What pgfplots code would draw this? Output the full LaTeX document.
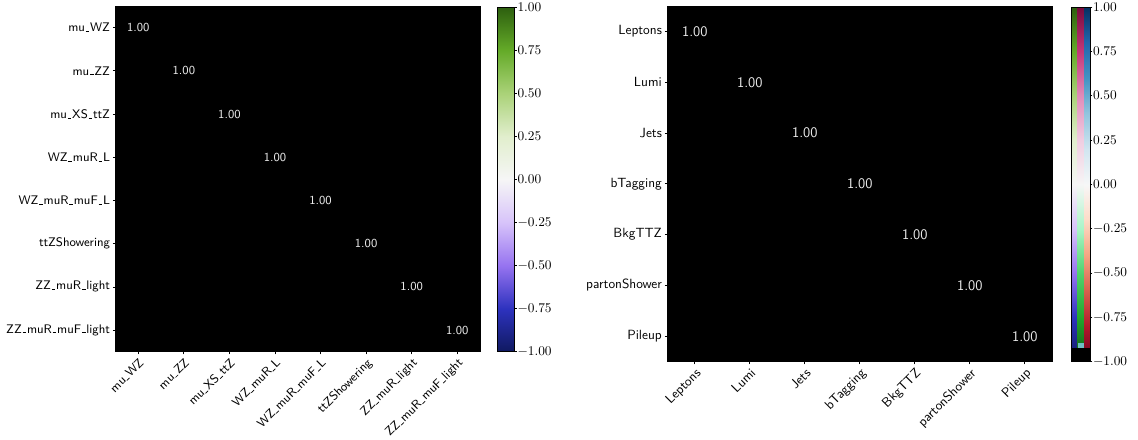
\documentclass[border=0pt]{standalone}
\usepackage{pgfplots}
\pgfplotsset{compat=1.18}
\renewcommand{\_}{\leavevmode\kern.06em\vbox{\hrule width.3em height 0.5pt}\kern.06em}
\definecolor{artifact}{RGB}{110,190,195}
\pgfplotsset{
  colormap={GB}{rgb255=(15,25,95) rgb255=(45,50,190) rgb255=(150,115,240) rgb255=(215,195,250) rgb255=(246,246,246) rgb255=(225,238,205) rgb255=(170,210,120) rgb255=(100,170,40) rgb255=(45,95,15)},
  colormap={PG}{rgb255=(15,90,20) rgb255=(35,165,45) rgb255=(80,210,110) rgb255=(170,245,200) rgb255=(246,246,246) rgb255=(240,205,225) rgb255=(225,140,185) rgb255=(195,55,120) rgb255=(120,10,60)},
  colormap={RB}{rgb255=(103,0,31) rgb255=(178,24,43) rgb255=(214,96,77) rgb255=(244,165,130) rgb255=(253,219,199) rgb255=(247,247,247) rgb255=(209,229,240) rgb255=(146,197,222) rgb255=(67,147,195) rgb255=(33,102,172) rgb255=(5,48,97)},
  colormap={blk}{rgb255=(0,0,0) rgb255=(0,0,0)},
  mstyle/.style={scale only axis, anchor=north west, y dir=reverse,
    colormap name=blk, enlargelimits=false,
    axis background/.style={fill=black},
    tick pos=left, tick align=outside, major tick length=1.9pt,
    tick style={black, line width=0.6pt},
    axis line style={black},
    x tick label style={rotate=45, anchor=north east, inner sep=1.5pt},
    y tick label style={inner sep=2pt}},
  cstyle/.style={scale only axis, anchor=north west,
    xmin=0, ymin=-1, ymax=1, xtick=\empty,
    ytick={-1,-0.75,-0.5,-0.25,0,0.25,0.5,0.75,1},
    yticklabel pos=right, ytick pos=right, tick align=outside,
    major tick length=1.7pt, tick style={black, line width=0.6pt},
    yticklabel style={/pgf/number format/fixed, /pgf/number format/fixed zerofill, /pgf/number format/precision=2, inner sep=0.4pt},
    point meta min=-1, point meta max=1, axis on top,
    axis line style={black, line width=0.5pt}},
  diaglabels/.style={draw=none, mark=none, point meta=explicit,
    nodes near coords={\pgfmathprintnumber[fixed,fixed zerofill,precision=2,assume math mode=true]{\pgfplotspointmeta}},
    nodes near coords align={center}}
}
\pgfplotstableread[row sep=\\]{
x y c\\
0 0 1\\ 1 0 0\\ 2 0 0\\ 3 0 0\\ 4 0 0\\ 5 0 0\\ 6 0 0\\ 7 0 0\\
0 1 0\\ 1 1 1\\ 2 1 0\\ 3 1 0\\ 4 1 0\\ 5 1 0\\ 6 1 0\\ 7 1 0\\
0 2 0\\ 1 2 0\\ 2 2 1\\ 3 2 0\\ 4 2 0\\ 5 2 0\\ 6 2 0\\ 7 2 0\\
0 3 0\\ 1 3 0\\ 2 3 0\\ 3 3 1\\ 4 3 0\\ 5 3 0\\ 6 3 0\\ 7 3 0\\
0 4 0\\ 1 4 0\\ 2 4 0\\ 3 4 0\\ 4 4 1\\ 5 4 0\\ 6 4 0\\ 7 4 0\\
0 5 0\\ 1 5 0\\ 2 5 0\\ 3 5 0\\ 4 5 0\\ 5 5 1\\ 6 5 0\\ 7 5 0\\
0 6 0\\ 1 6 0\\ 2 6 0\\ 3 6 0\\ 4 6 0\\ 5 6 0\\ 6 6 1\\ 7 6 0\\
0 7 0\\ 1 7 0\\ 2 7 0\\ 3 7 0\\ 4 7 0\\ 5 7 0\\ 6 7 0\\ 7 7 1\\
}\leftmat
\pgfplotstableread[row sep=\\]{
x y c\\
0 0 1\\ 1 1 1\\ 2 2 1\\ 3 3 1\\ 4 4 1\\ 5 5 1\\ 6 6 1\\ 7 7 1\\
}\leftdiag
\pgfplotstableread[row sep=\\]{
x y c\\
0 0 1\\ 1 0 0\\ 2 0 0\\ 3 0 0\\ 4 0 0\\ 5 0 0\\ 6 0 0\\
0 1 0\\ 1 1 1\\ 2 1 0\\ 3 1 0\\ 4 1 0\\ 5 1 0\\ 6 1 0\\
0 2 0\\ 1 2 0\\ 2 2 1\\ 3 2 0\\ 4 2 0\\ 5 2 0\\ 6 2 0\\
0 3 0\\ 1 3 0\\ 2 3 0\\ 3 3 1\\ 4 3 0\\ 5 3 0\\ 6 3 0\\
0 4 0\\ 1 4 0\\ 2 4 0\\ 3 4 0\\ 4 4 1\\ 5 4 0\\ 6 4 0\\
0 5 0\\ 1 5 0\\ 2 5 0\\ 3 5 0\\ 4 5 0\\ 5 5 1\\ 6 5 0\\
0 6 0\\ 1 6 0\\ 2 6 0\\ 3 6 0\\ 4 6 0\\ 5 6 0\\ 6 6 1\\
}\rightmat
\pgfplotstableread[row sep=\\]{
x y c\\
0 0 1\\ 1 1 1\\ 2 2 1\\ 3 3 1\\ 4 4 1\\ 5 5 1\\ 6 6 1\\
}\rightdiag
\begin{document}
\begin{tikzpicture}
\useasboundingbox (0pt,0pt) rectangle (853.5pt,-329.25pt);
% left matrix
\begin{axis}[mstyle, at={(86.625pt,-4.5pt)}, width=273.4pt, height=259.3pt,
  xmin=-0.5, xmax=7.5, ymin=-0.5, ymax=7.5,
  xtick={0,...,7}, ytick={0,...,7},
  xticklabels={mu\_WZ, mu\_ZZ, mu\_XS\_ttZ, WZ\_muR\_L, WZ\_muR\_muF\_L, ttZShowering, ZZ\_muR\_light, ZZ\_muR\_muF\_light},
  yticklabels={mu\_WZ, mu\_ZZ, mu\_XS\_ttZ, WZ\_muR\_L, WZ\_muR\_muF\_L, ttZShowering, ZZ\_muR\_light, ZZ\_muR\_muF\_light},
  tick label style={font=\sffamily\fontsize{9.3}{11}\selectfont}]
\addplot[matrix plot*, mesh/cols=8, point meta=explicit] table[meta=c] {\leftmat};
\addplot[diaglabels, nodes near coords style={text=white!92!black, font=\sffamily\fontsize{9.2}{11}\selectfont}] table[meta=c] {\leftdiag};
\end{axis}
% left colorbar
\begin{axis}[cstyle, at={(372.75pt,-5.25pt)}, width=13.1pt, height=258.5pt, xmax=1,
  yticklabel style={font=\fontsize{10}{12}\selectfont}]
\addplot[surf, shader=interp, colormap name=GB, point meta=y, mesh/rows=2] coordinates {(0,-1) (1,-1) (0,1) (1,1)};
\end{axis}
% right matrix
\begin{axis}[mstyle, at={(500.5pt,-4.5pt)}, width=288.75pt, height=266.8pt,
  xmin=-0.5, xmax=6.5, ymin=-0.5, ymax=6.5,
  xtick={0,...,6}, ytick={0,...,6},
  xticklabels={Leptons, Lumi, Jets, bTagging, BkgTTZ, partonShower, Pileup},
  yticklabels={Leptons, Lumi, Jets, bTagging, BkgTTZ, partonShower, Pileup},
  tick label style={font=\sffamily\fontsize{10}{12}\selectfont}]
\addplot[matrix plot*, mesh/cols=7, point meta=explicit] table[meta=c] {\rightmat};
\addplot[diaglabels, nodes near coords style={text=white!92!black, font=\sffamily\fontsize{11}{13}\selectfont}] table[meta=c] {\rightdiag};
\end{axis}
% right colorbar (three stripes)
\begin{axis}[cstyle, at={(803.25pt,-5.25pt)}, width=14.25pt, height=266pt, xmax=3,
  yticklabel style={font=\fontsize{10}{12}\selectfont}]
\addplot[surf, shader=interp, colormap name=GB, point meta=y, mesh/rows=2] coordinates {(0,-1) (1,-1) (0,1) (1,1)};
\addplot[surf, shader=interp, colormap name=PG, point meta=y, mesh/rows=2] coordinates {(1,-1) (2,-1) (1,1) (2,1)};
\addplot[surf, shader=interp, colormap name=RB, point meta=y, mesh/rows=2] coordinates {(2,-1) (3,-1) (2,1) (3,1)};
\addplot[fill=artifact, draw=none] coordinates {(1.1,-0.925) (2.0,-0.925) (2.0,-0.895) (1.1,-0.895)} -- cycle;
\addplot[fill=black, draw=none] coordinates {(0,-1) (3,-1) (3,-0.925) (0,-0.925)} -- cycle;
\end{axis}
\end{tikzpicture}
\end{document}
